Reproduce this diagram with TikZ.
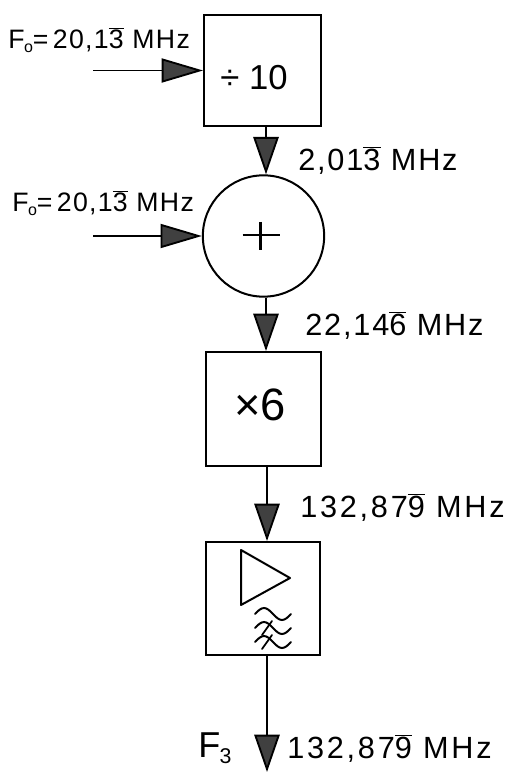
\documentclass[tikz,border=0pt]{standalone}
\usepackage{fontspec}
\setmainfont{Liberation Sans}
\usetikzlibrary{arrows.meta,fit}
\newcommand\rep[1]{$\overline{\mbox{#1}}$}
\newcommand\Fsub[2]{F\kern-0.02em\raisebox{-0.3ex}{\fontsize{#2}{#2}\selectfont #1}}
\begin{document}
\begin{tikzpicture}[x=0.75pt,y=-0.75pt,
  blk/.style={draw,line width=1.5pt,inner sep=0pt},
  vconn/.style={line width=1.4pt,-{Triangle[length=28pt,width=19pt,fill=black!75]}},
  hconn/.style={line width=1.4pt,-{Triangle[length=31pt,width=18pt,fill=black!75]}},
  lbl/.style={font=\fontsize{23}{26}\selectfont\addfontfeature{LetterSpace=6},anchor=west,inner sep=0pt},
  wlbl/.style={font=\fontsize{23}{26}\selectfont\addfontfeature{LetterSpace=9},anchor=west,inner sep=0pt},
  slbl/.style={font=\fontsize{20}{24}\selectfont\addfontfeature{LetterSpace=5},anchor=west,inner sep=0pt}]
\useasboundingbox (0,0) rectangle (514,773);
% blocks
\coordinate (b1a) at (204,15); \coordinate (b1b) at (321,126);
\node[blk,fit=(b1a)(b1b)] (b1) {};
\node[font=\fontsize{26}{28}\selectfont] (b1t) at (254,78) {÷ 10};
\node[blk,circle,minimum size=91pt] (sum) at (263.5,236) {};
\coordinate (b2a) at (206,352); \coordinate (b2b) at (321,466);
\node[blk,fit=(b2a)(b2b)] (b2) {};
\node[font=\fontsize{34}{36}\selectfont] (b2t) at (260,405) {×6};
\coordinate (b3a) at (206,542); \coordinate (b3b) at (320,655);
\node[blk,fit=(b3a)(b3b)] (b3) {};
% plus sign
\draw[line width=1.6pt] (sum.center) ++(-21,-1) -- ++(37,0);
\draw[line width=1.6pt] (sum.center) ++(-3,-14) -- ++(0,28);
% amplifier and filter
\draw[line width=1.5pt,line join=round] (241,550) -- (241,605) -- (290,578) -- cycle;
\foreach \yy in {614,628,642}{
  \draw[line width=1.5pt,line cap=round] (255,\yy) sin (264,\yy-6) cos (273,\yy) sin (282,\yy+6) cos (291,\yy);
}
\draw[line width=1.3pt,line cap=round] (262,635) -- (272,621);
\draw[line width=1.3pt,line cap=round] (262,649) -- (272,635);
% inputs
\coordinate (in1) at (93,70.5);
\coordinate (in2) at (93,236);
\coordinate (out) at (267,772);
\draw[hconn] (in1) -- (b1.west);
\draw[hconn] (in2) -- (sum.west);
\draw[vconn] (b1.south -| 266,0) -- (sum.north -| 266,0);
\draw[vconn] (sum.south -| 266,0) -- (b2.north -| 266,0);
\draw[vconn] (b2.south -| 267,0) -- (b3.north -| 267,0);
\draw[vconn] (b3.south -| 267,0) -- (out);
% labels
\node[slbl] (l1) at (8,40) {\Fsub{o}{12}=\,20,1\rep{3} MHz};
\node[slbl] (l2) at (12,203) {\Fsub{o}{12}=\,20,1\rep{3} MHz};
\node[lbl] (l3) at (298,160) {2,01\rep{3} MHz};
\node[lbl] (l4) at (305,325) {22,14\rep{6} MHz};
\node[wlbl] (l5) at (300,507) {132,87\rep{9} MHz};
\node[lbl,font=\fontsize{27}{30}\selectfont] (l6) at (198,748) {\Fsub{3}{16}};
\node[wlbl] (l7) at (287,748) {132,87\rep{9} MHz};
\end{tikzpicture}
\end{document}
